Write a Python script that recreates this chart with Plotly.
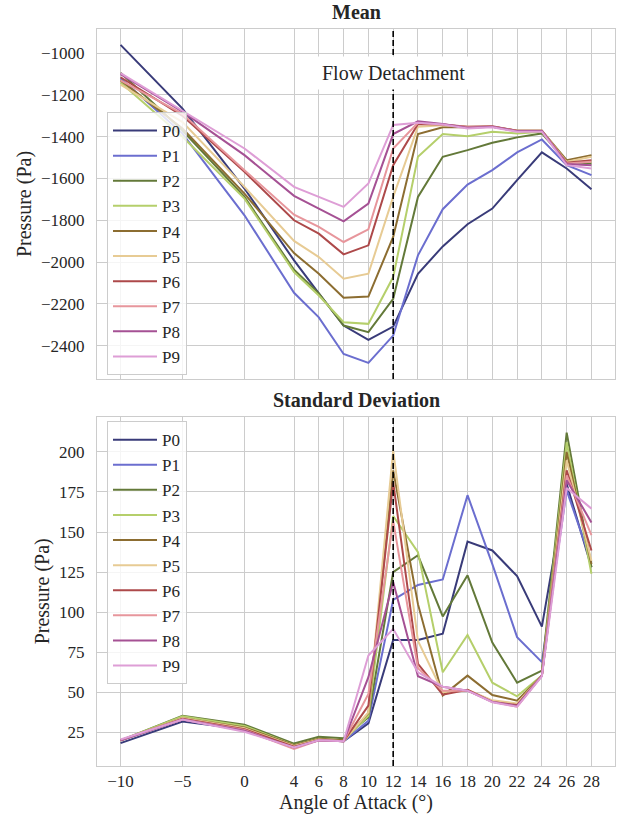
import plotly.graph_objects as go

AOA = [-10, -5, 0, 4, 6, 8, 10, 12, 14, 16, 18, 20, 22, 24, 26, 28]
X_TICKS = [-10, -5, 0, 4, 6, 8, 10, 12, 14, 16, 18, 20, 22, 24, 26, 28]
X_TICK_TEXT = ["\u221210", "\u22125", "0", "4", "6", "8", "10", "12", "14", "16", "18", "20", "22", "24", "26", "28"]
SERIES = ["P0", "P1", "P2", "P3", "P4", "P5", "P6", "P7", "P8", "P9"]
COLORS = ["#393b79", "#6b6ecf", "#637939", "#b5cf6b", "#8c6d31",
          "#e7cb94", "#ad494a", "#e7969c", "#a55194", "#de9ed6"]

MEAN_P0 = [-960, -1265, -1648, -1992, -2150, -2304, -2373, -2309, -2056, -1925, -1819, -1744, -1608, -1475, -1552, -1651]
MEAN_P1 = [-1120, -1385, -1776, -2147, -2265, -2440, -2483, -2352, -1968, -1747, -1629, -1560, -1475, -1413, -1536, -1584]
MEAN_P2 = [-1093, -1370, -1688, -2037, -2150, -2304, -2336, -2176, -1688, -1496, -1464, -1429, -1403, -1384, -1520, -1528]
MEAN_P3 = [-1140, -1400, -1696, -2048, -2160, -2288, -2296, -2072, -1496, -1387, -1397, -1376, -1384, -1376, -1520, -1520]
MEAN_P4 = [-1130, -1360, -1672, -1957, -2056, -2171, -2165, -1880, -1387, -1355, -1355, -1352, -1371, -1371, -1512, -1488]
MEAN_P5 = [-1150, -1330, -1640, -1899, -1976, -2080, -2056, -1688, -1352, -1345, -1352, -1352, -1371, -1371, -1520, -1496]
MEAN_P6 = [-1115, -1300, -1568, -1800, -1864, -1963, -1920, -1536, -1339, -1341, -1352, -1350, -1371, -1371, -1525, -1512]
MEAN_P7 = [-1130, -1290, -1560, -1773, -1832, -1904, -1843, -1456, -1333, -1341, -1355, -1352, -1373, -1373, -1528, -1520]
MEAN_P8 = [-1100, -1280, -1488, -1683, -1744, -1805, -1720, -1387, -1326, -1339, -1357, -1352, -1373, -1373, -1530, -1536]
MEAN_P9 = [-1095, -1275, -1456, -1640, -1688, -1736, -1624, -1344, -1333, -1341, -1360, -1355, -1376, -1376, -1536, -1552]

STD_P0 = [18.3, 31.7, 27.0, 17.0, 20.5, 19.5, 30.6, 82.7, 82.7, 86.5, 144.0, 138.5, 122.5, 91.0, 180.0, 128.0]
STD_P1 = [20.0, 33.0, 26.0, 16.5, 20.0, 19.5, 32.3, 107.7, 117.0, 120.4, 173.0, 130.0, 84.4, 68.8, 176.0, 131.0]
STD_P2 = [20.0, 35.4, 29.8, 18.0, 22.3, 21.3, 34.4, 125.0, 135.5, 97.3, 123.0, 81.0, 56.0, 63.5, 212.0, 128.0]
STD_P3 = [20.0, 35.0, 29.0, 17.0, 21.0, 20.0, 35.4, 160.0, 137.5, 62.5, 85.8, 56.0, 47.5, 60.4, 206.0, 124.0]
STD_P4 = [20.0, 34.0, 28.0, 17.0, 21.0, 20.0, 37.0, 188.5, 105.0, 48.0, 60.4, 48.3, 44.8, 60.4, 200.0, 130.0]
STD_P5 = [20.0, 34.0, 27.5, 16.5, 20.5, 19.5, 37.5, 201.0, 82.0, 50.0, 51.5, 45.0, 43.0, 60.4, 194.8, 132.0]
STD_P6 = [20.0, 33.5, 27.0, 16.0, 20.0, 19.5, 41.7, 181.0, 67.7, 48.5, 51.5, 44.0, 42.0, 60.4, 188.5, 138.5]
STD_P7 = [20.0, 33.0, 26.5, 14.6, 20.0, 19.4, 49.0, 157.0, 65.0, 51.0, 51.0, 44.0, 41.0, 60.4, 185.4, 148.0]
STD_P8 = [20.0, 33.0, 26.0, 15.5, 20.0, 19.4, 59.4, 118.8, 60.0, 53.5, 51.0, 44.0, 41.5, 60.4, 182.3, 156.0]
STD_P9 = [20.5, 33.0, 25.4, 15.6, 20.0, 19.4, 72.9, 89.6, 62.5, 53.5, 51.0, 43.8, 41.0, 60.0, 177.5, 164.6]

MEAN = [MEAN_P0, MEAN_P1, MEAN_P2, MEAN_P3, MEAN_P4, MEAN_P5, MEAN_P6, MEAN_P7, MEAN_P8, MEAN_P9]
STD = [STD_P0, STD_P1, STD_P2, STD_P3, STD_P4, STD_P5, STD_P6, STD_P7, STD_P8, STD_P9]

DETACH_AOA = 12
DETACH_LABEL = "Flow Detachment"
DETACH_LABEL_Y = -1095

FONT = "Liberation Serif"
TXT = "#262626"
GRID = "#cccccc"

fig = go.Figure()
for name, color, m in zip(SERIES, COLORS, MEAN):
    fig.add_trace(go.Scatter(x=AOA, y=m, mode="lines", name=name,
                             line=dict(color=color, width=2),
                             xaxis="x", yaxis="y", legend="legend"))
for name, color, s in zip(SERIES, COLORS, STD):
    fig.add_trace(go.Scatter(x=AOA, y=s, mode="lines", name=name,
                             line=dict(color=color, width=2),
                             xaxis="x2", yaxis="y2", legend="legend2"))

axis_common = dict(showgrid=True, gridcolor=GRID, gridwidth=1, zeroline=False,
                   showline=True, linecolor=GRID, linewidth=1, mirror=True,
                   automargin=False,
                   ticks="", tickfont=dict(family=FONT, size=17, color=TXT))
title_font = dict(family=FONT, size=20, color=TXT)
legend_common = dict(xanchor="left", yanchor="top", x=0.0193,
                     bgcolor="rgba(255,255,255,0.8)", bordercolor=GRID, borderwidth=1,
                     itemwidth=44, font=dict(family=FONT, size=17, color=TXT))

fig.update_layout(
    width=622, height=821,
    margin=dict(l=97, r=7, t=29, b=55, autoexpand=False),
    paper_bgcolor="white", plot_bgcolor="white",
    font=dict(family=FONT, color=TXT),
    xaxis=dict(domain=[0, 1], anchor="y", range=[-11.9, 29.9], matches="x2",
               tickvals=X_TICKS, ticktext=X_TICK_TEXT, showticklabels=False, **axis_common),
    xaxis2=dict(domain=[0, 1], anchor="y2", range=[-11.9, 29.9],
                tickvals=X_TICKS, ticktext=X_TICK_TEXT, ticklabelstandoff=0,
                title=dict(text="Angle of Attack (\u00b0)", font=title_font, standoff=4),
                **axis_common),
    yaxis=dict(domain=[0.5251, 1], anchor="x", range=[-2560, -884], dtick=200,
               tickformat="d", ticklabelstandoff=8,
               title=dict(text="Pressure (Pa)", font=title_font, standoff=4),
               **axis_common),
    yaxis2=dict(domain=[0, 0.474], anchor="x2", range=[4, 222], dtick=25,
                ticklabelstandoff=8,
                title=dict(text="Pressure (Pa)", font=title_font, standoff=4),
                **axis_common),
    legend=dict(y=0.8874, **legend_common),
    legend2=dict(y=0.468, **legend_common),
    showlegend=True,
)

for xref, yref in [("x", "y domain"), ("x2", "y2 domain")]:
    fig.add_shape(type="line", xref=xref, yref=yref, x0=DETACH_AOA, x1=DETACH_AOA,
                  y0=0, y1=1, line=dict(color="black", width=1.6, dash="6px,3px"),
                  layer="above")

fig.add_annotation(x=DETACH_AOA, y=DETACH_LABEL_Y, xref="x", yref="y",
                   text=DETACH_LABEL, showarrow=False, bgcolor="white",
                   borderpad=5, font=title_font)

fig.add_annotation(x=0.5, y=1, xref="paper", yref="y domain", yanchor="bottom",
                   text="<b>Mean</b>", showarrow=False, yshift=4, font=title_font)
fig.add_annotation(x=0.5, y=1, xref="paper", yref="y2 domain", yanchor="bottom",
                   text="<b>Standard Deviation</b>", showarrow=False, yshift=4,
                   font=title_font)

fig.write_html("out.html", config={"displayModeBar": False},
               post_script="document.body.style.margin='0';document.body.style.padding='0';")
